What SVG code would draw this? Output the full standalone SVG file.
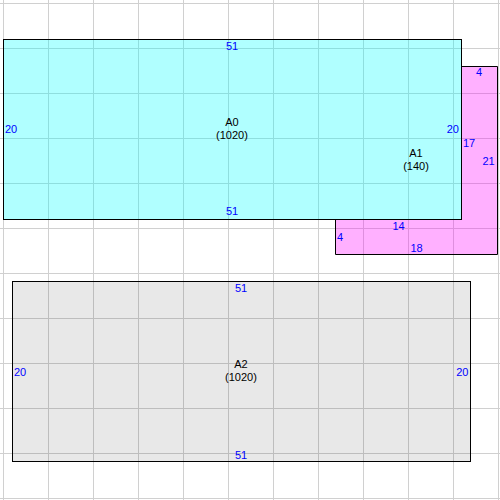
<svg xmlns="http://www.w3.org/2000/svg" width="500" height="500" viewBox="0 0 500 500">
<style>
.grid line{stroke:#d0d0d0;stroke-width:1}
.shape{stroke:#000;stroke-width:1}
.dim{font-family:"Liberation Sans",Arial,sans-serif;font-size:11px;fill:#0000ff}
.name{font-family:"Liberation Sans",Arial,sans-serif;font-size:11px;fill:#000;text-anchor:middle}
.m{text-anchor:middle}
.e{text-anchor:end}
</style>
<rect x="0" y="0" width="500" height="500" fill="#fff"/>
<g class="grid">
<line x1="3.5" y1="0" x2="3.5" y2="500"/><line x1="48.5" y1="0" x2="48.5" y2="500"/><line x1="93.5" y1="0" x2="93.5" y2="500"/><line x1="138.5" y1="0" x2="138.5" y2="500"/><line x1="183.5" y1="0" x2="183.5" y2="500"/><line x1="228.5" y1="0" x2="228.5" y2="500"/><line x1="273.5" y1="0" x2="273.5" y2="500"/><line x1="318.5" y1="0" x2="318.5" y2="500"/><line x1="363.5" y1="0" x2="363.5" y2="500"/><line x1="408.5" y1="0" x2="408.5" y2="500"/><line x1="453.5" y1="0" x2="453.5" y2="500"/><line x1="498.5" y1="0" x2="498.5" y2="500"/>
<line x1="0" y1="3.5" x2="500" y2="3.5"/><line x1="0" y1="48.5" x2="500" y2="48.5"/><line x1="0" y1="93.5" x2="500" y2="93.5"/><line x1="0" y1="138.5" x2="500" y2="138.5"/><line x1="0" y1="183.5" x2="500" y2="183.5"/><line x1="0" y1="228.5" x2="500" y2="228.5"/><line x1="0" y1="273.5" x2="500" y2="273.5"/><line x1="0" y1="318.5" x2="500" y2="318.5"/><line x1="0" y1="363.5" x2="500" y2="363.5"/><line x1="0" y1="408.5" x2="500" y2="408.5"/><line x1="0" y1="453.5" x2="500" y2="453.5"/><line x1="0" y1="498.5" x2="500" y2="498.5"/>
</g>
<g id="A1">
<polygon class="shape" points="461.5,66.5 497.5,66.5 497.5,254.5 335.5,254.5 335.5,219.5 461.5,219.5" fill="#ff00ff" fill-opacity="0.31"/>
<text class="dim m" x="479" y="76">4</text>
<text class="dim m" x="469" y="147">17</text>
<text class="dim m" x="488.5" y="165">21</text>
<text class="dim m" x="398.5" y="230">14</text>
<text class="dim m" x="340" y="241">4</text>
<text class="dim m" x="416.5" y="251.5">18</text>
</g>
<g id="A0">
<rect class="shape" x="3.5" y="39.5" width="458" height="180" fill="#00ffff" fill-opacity="0.31"/>
<text class="dim m" x="232" y="50">51</text>
<text class="dim m" x="232" y="215">51</text>
<text class="dim" x="5" y="133">20</text>
<text class="dim e" x="459" y="133">20</text>
<text class="name" x="232" y="126">A0</text>
<text class="name" x="232" y="138.5">(1020)</text>
</g>
<g id="A1-label">
<text class="name" x="416" y="157">A1</text>
<text class="name" x="416" y="169.5">(140)</text>
</g>
<g id="A2">
<rect class="shape" x="12.5" y="281.5" width="458" height="180" fill="#000" fill-opacity="0.09"/>
<text class="dim m" x="241" y="292">51</text>
<text class="dim m" x="241" y="459">51</text>
<text class="dim" x="14" y="376">20</text>
<text class="dim e" x="468.5" y="376">20</text>
<text class="name" x="241" y="368">A2</text>
<text class="name" x="241" y="380.5">(1020)</text>
</g>
<g id="connectors"></g>
</svg>
